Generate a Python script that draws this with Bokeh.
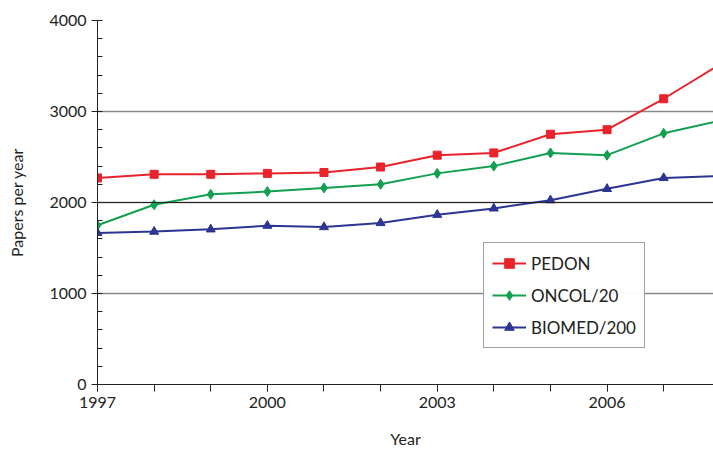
from bokeh.plotting import figure
from bokeh.models import FixedTicker, Range1d, Legend, LegendItem
from bokeh.embed import file_html
from bokeh.resources import INLINE

years = list(range(1997, 2009))
pedon = [2270, 2310, 2310, 2320, 2330, 2390, 2520, 2545, 2750, 2800, 3140, 3520]
oncol = [1750, 1975, 2090, 2120, 2160, 2200, 2320, 2400, 2545, 2520, 2760, 2900]
biomed = [1665, 1680, 1705, 1745, 1730, 1775, 1865, 1935, 2025, 2150, 2270, 2290]

FONT = "Lato"

p = figure(width=713, height=450, output_backend="svg", toolbar_location=None,
           x_range=Range1d(1997, 2007.88), y_range=Range1d(0, 4000),
           x_axis_label="Year", y_axis_label="Papers per year",
           min_border_left=97, min_border_right=0, min_border_top=20, min_border_bottom=54)
p.outline_line_color = None

p.xaxis.ticker = FixedTicker(ticks=[1997, 2000, 2003, 2006], minor_ticks=years)
p.yaxis.ticker = FixedTicker(ticks=[0, 1000, 2000, 3000, 4000],
                             minor_ticks=list(range(0, 4001, 200)))
for ax in (p.xaxis, p.yaxis):
    ax.axis_line_color = "#222222"
    ax.major_tick_line_color = "#222222"
    ax.minor_tick_line_color = "#222222"
    ax.major_label_text_font = FONT
    ax.major_label_text_font_size = "16px"
    ax.major_label_text_color = "#222222"
    ax.axis_label_text_font = FONT
    ax.axis_label_text_font_size = "16px"
    ax.axis_label_text_font_style = "normal"
    ax.axis_label_text_color = "#222222"
p.xaxis.major_tick_in = 0
p.xaxis.major_tick_out = 7
p.xaxis.minor_tick_in = 0
p.xaxis.minor_tick_out = 7
p.xaxis.axis_label_standoff = 18
p.yaxis.major_tick_in = 0
p.yaxis.major_tick_out = 6
p.yaxis.minor_tick_in = 5
p.yaxis.minor_tick_out = 0
p.yaxis.axis_label_standoff = 20

p.xgrid.grid_line_color = None
p.ygrid.grid_line_color = "#888888"
p.ygrid.grid_line_width = 1.5

red, green, blue = "#e8232b", "#11a04f", "#2c3594"
mx, mp, mo, mb = years[:-1], pedon[:-1], oncol[:-1], biomed[:-1]

l1 = p.line(years, pedon, color=red, line_width=2)
s1 = p.scatter(mx, mp, marker="square", size=8, color=red)
l2 = p.line(years, oncol, color=green, line_width=2)
s2 = p.scatter(mx, mo, marker="diamond", size=10, color=green)
l3 = p.line(years, biomed, color=blue, line_width=2)
s3 = p.scatter(mx, mb, marker="triangle", size=9, color=blue)

p.hspan(y=[2000], line_color="#222222", line_width=1)

legend = Legend(items=[LegendItem(label="PEDON", renderers=[l1, s1]),
                       LegendItem(label="ONCOL/20", renderers=[l2, s2]),
                       LegendItem(label="BIOMED/200", renderers=[l3, s3])],
                location=(386, 36), label_text_font=FONT, label_text_font_size="17px",
                label_text_color="#222222", border_line_color="#444444",
                border_line_width=1, glyph_width=34, spacing=8, padding=8,
                label_height=24, glyph_height=24)
p.add_layout(legend, "center")

open("out.html", "w").write(file_html(p, INLINE))
